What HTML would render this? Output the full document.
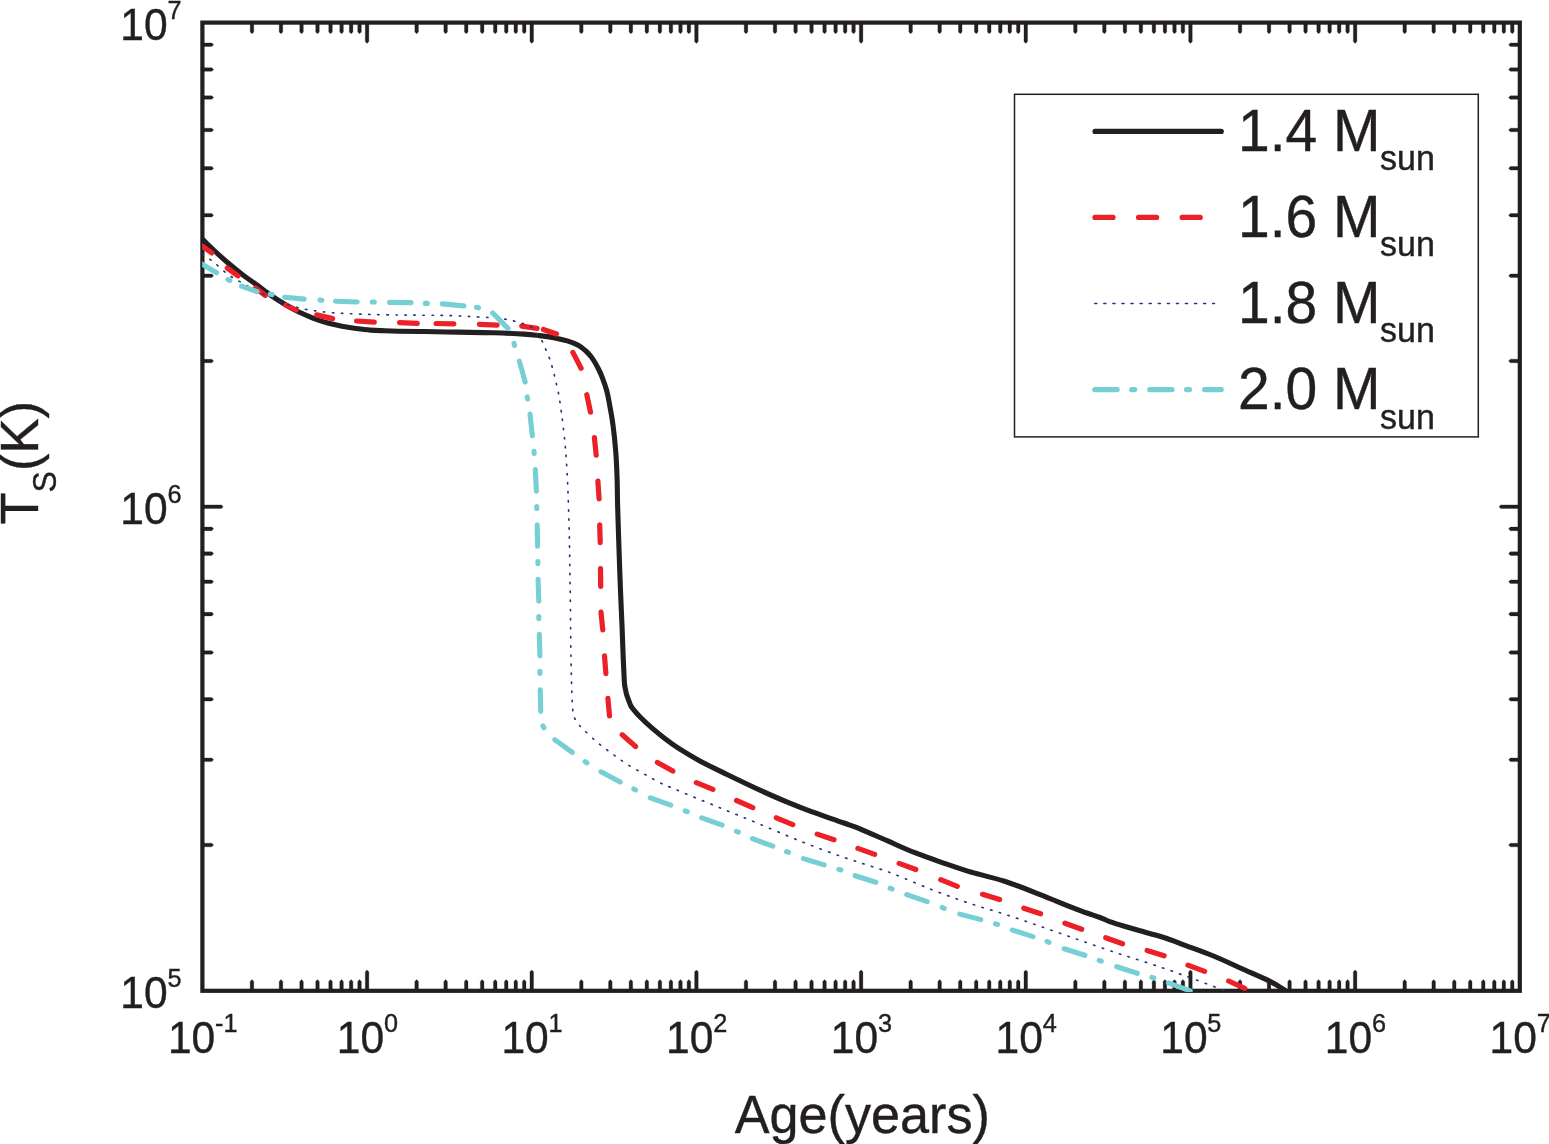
<!DOCTYPE html>
<html lang="en"><head><meta charset="utf-8"><title>Ts vs Age</title>
<style>html,body{margin:0;padding:0;background:#fff}svg{display:block}text{font-family:"Liberation Sans",sans-serif;fill:#231f20;stroke:#231f20;stroke-width:0.4px}</style></head><body>
<svg width="1549" height="1144" viewBox="0 0 1549 1144">
<rect width="1549" height="1144" fill="#fff"/>
<defs><clipPath id="c"><rect x="202.1" y="20.5" width="1319.8" height="971.5"/></clipPath></defs>
<rect x="202.4" y="22.6" width="1317.4" height="968.2" fill="none" stroke="#231f20" stroke-width="4.2" stroke-linejoin="miter"/>
<path d="M250.19 22.6V32.0L251.97 33.8L253.75 32.0V22.6ZM250.19 990.8V981.4L251.97 979.6L253.75 981.4V990.8ZM279.19 22.6V32.0L280.97 33.8L282.75 32.0V22.6ZM279.19 990.8V981.4L280.97 979.6L282.75 981.4V990.8ZM299.76 22.6V32.0L301.54 33.8L303.32 32.0V22.6ZM299.76 990.8V981.4L301.54 979.6L303.32 981.4V990.8ZM315.72 22.6V32.0L317.50 33.8L319.28 32.0V22.6ZM315.72 990.8V981.4L317.50 979.6L319.28 981.4V990.8ZM328.76 22.6V32.0L330.54 33.8L332.32 32.0V22.6ZM328.76 990.8V981.4L330.54 979.6L332.32 981.4V990.8ZM339.79 22.6V32.0L341.57 33.8L343.35 32.0V22.6ZM339.79 990.8V981.4L341.57 979.6L343.35 981.4V990.8ZM349.34 22.6V32.0L351.12 33.8L352.90 32.0V22.6ZM349.34 990.8V981.4L351.12 979.6L352.90 981.4V990.8ZM357.76 22.6V32.0L359.54 33.8L361.32 32.0V22.6ZM357.76 990.8V981.4L359.54 979.6L361.32 981.4V990.8ZM365.30 22.6V41.6L367.07 43.4L368.85 41.6V22.6ZM365.30 990.8V971.8L367.07 970.0L368.85 971.8V990.8ZM414.87 22.6V32.0L416.65 33.8L418.43 32.0V22.6ZM414.87 990.8V981.4L416.65 979.6L418.43 981.4V990.8ZM443.86 22.6V32.0L445.64 33.8L447.42 32.0V22.6ZM443.86 990.8V981.4L445.64 979.6L447.42 981.4V990.8ZM464.44 22.6V32.0L466.22 33.8L468.00 32.0V22.6ZM464.44 990.8V981.4L466.22 979.6L468.00 981.4V990.8ZM480.40 22.6V32.0L482.18 33.8L483.96 32.0V22.6ZM480.40 990.8V981.4L482.18 979.6L483.96 981.4V990.8ZM493.44 22.6V32.0L495.22 33.8L497.00 32.0V22.6ZM493.44 990.8V981.4L495.22 979.6L497.00 981.4V990.8ZM504.46 22.6V32.0L506.24 33.8L508.02 32.0V22.6ZM504.46 990.8V981.4L506.24 979.6L508.02 981.4V990.8ZM514.01 22.6V32.0L515.79 33.8L517.57 32.0V22.6ZM514.01 990.8V981.4L515.79 979.6L517.57 981.4V990.8ZM522.43 22.6V32.0L524.21 33.8L525.99 32.0V22.6ZM522.43 990.8V981.4L524.21 979.6L525.99 981.4V990.8ZM529.97 22.6V41.6L531.75 43.4L533.53 41.6V22.6ZM529.97 990.8V971.8L531.75 970.0L533.53 971.8V990.8ZM579.54 22.6V32.0L581.32 33.8L583.10 32.0V22.6ZM579.54 990.8V981.4L581.32 979.6L583.10 981.4V990.8ZM608.54 22.6V32.0L610.32 33.8L612.10 32.0V22.6ZM608.54 990.8V981.4L610.32 979.6L612.10 981.4V990.8ZM629.11 22.6V32.0L630.89 33.8L632.67 32.0V22.6ZM629.11 990.8V981.4L630.89 979.6L632.67 981.4V990.8ZM645.07 22.6V32.0L646.85 33.8L648.63 32.0V22.6ZM645.07 990.8V981.4L646.85 979.6L648.63 981.4V990.8ZM658.11 22.6V32.0L659.89 33.8L661.67 32.0V22.6ZM658.11 990.8V981.4L659.89 979.6L661.67 981.4V990.8ZM669.14 22.6V32.0L670.92 33.8L672.70 32.0V22.6ZM669.14 990.8V981.4L670.92 979.6L672.70 981.4V990.8ZM678.69 22.6V32.0L680.47 33.8L682.25 32.0V22.6ZM678.69 990.8V981.4L680.47 979.6L682.25 981.4V990.8ZM687.11 22.6V32.0L688.89 33.8L690.67 32.0V22.6ZM687.11 990.8V981.4L688.89 979.6L690.67 981.4V990.8ZM694.64 22.6V41.6L696.42 43.4L698.20 41.6V22.6ZM694.64 990.8V971.8L696.42 970.0L698.20 971.8V990.8ZM744.22 22.6V32.0L746.00 33.8L747.78 32.0V22.6ZM744.22 990.8V981.4L746.00 979.6L747.78 981.4V990.8ZM773.21 22.6V32.0L774.99 33.8L776.77 32.0V22.6ZM773.21 990.8V981.4L774.99 979.6L776.77 981.4V990.8ZM793.79 22.6V32.0L795.57 33.8L797.35 32.0V22.6ZM793.79 990.8V981.4L795.57 979.6L797.35 981.4V990.8ZM809.75 22.6V32.0L811.53 33.8L813.31 32.0V22.6ZM809.75 990.8V981.4L811.53 979.6L813.31 981.4V990.8ZM822.79 22.6V32.0L824.57 33.8L826.35 32.0V22.6ZM822.79 990.8V981.4L824.57 979.6L826.35 981.4V990.8ZM833.81 22.6V32.0L835.59 33.8L837.37 32.0V22.6ZM833.81 990.8V981.4L835.59 979.6L837.37 981.4V990.8ZM843.36 22.6V32.0L845.14 33.8L846.92 32.0V22.6ZM843.36 990.8V981.4L845.14 979.6L846.92 981.4V990.8ZM851.78 22.6V32.0L853.56 33.8L855.34 32.0V22.6ZM851.78 990.8V981.4L853.56 979.6L855.34 981.4V990.8ZM859.32 22.6V41.6L861.10 43.4L862.88 41.6V22.6ZM859.32 990.8V971.8L861.10 970.0L862.88 971.8V990.8ZM908.89 22.6V32.0L910.67 33.8L912.45 32.0V22.6ZM908.89 990.8V981.4L910.67 979.6L912.45 981.4V990.8ZM937.89 22.6V32.0L939.67 33.8L941.45 32.0V22.6ZM937.89 990.8V981.4L939.67 979.6L941.45 981.4V990.8ZM958.46 22.6V32.0L960.24 33.8L962.02 32.0V22.6ZM958.46 990.8V981.4L960.24 979.6L962.02 981.4V990.8ZM974.42 22.6V32.0L976.20 33.8L977.98 32.0V22.6ZM974.42 990.8V981.4L976.20 979.6L977.98 981.4V990.8ZM987.46 22.6V32.0L989.24 33.8L991.02 32.0V22.6ZM987.46 990.8V981.4L989.24 979.6L991.02 981.4V990.8ZM998.49 22.6V32.0L1000.27 33.8L1002.05 32.0V22.6ZM998.49 990.8V981.4L1000.27 979.6L1002.05 981.4V990.8ZM1008.04 22.6V32.0L1009.82 33.8L1011.60 32.0V22.6ZM1008.04 990.8V981.4L1009.82 979.6L1011.60 981.4V990.8ZM1016.46 22.6V32.0L1018.24 33.8L1020.02 32.0V22.6ZM1016.46 990.8V981.4L1018.24 979.6L1020.02 981.4V990.8ZM1023.99 22.6V41.6L1025.77 43.4L1027.55 41.6V22.6ZM1023.99 990.8V971.8L1025.77 970.0L1027.55 971.8V990.8ZM1073.57 22.6V32.0L1075.35 33.8L1077.13 32.0V22.6ZM1073.57 990.8V981.4L1075.35 979.6L1077.13 981.4V990.8ZM1102.56 22.6V32.0L1104.34 33.8L1106.12 32.0V22.6ZM1102.56 990.8V981.4L1104.34 979.6L1106.12 981.4V990.8ZM1123.14 22.6V32.0L1124.92 33.8L1126.70 32.0V22.6ZM1123.14 990.8V981.4L1124.92 979.6L1126.70 981.4V990.8ZM1139.10 22.6V32.0L1140.88 33.8L1142.66 32.0V22.6ZM1139.10 990.8V981.4L1140.88 979.6L1142.66 981.4V990.8ZM1152.14 22.6V32.0L1153.92 33.8L1155.70 32.0V22.6ZM1152.14 990.8V981.4L1153.92 979.6L1155.70 981.4V990.8ZM1163.16 22.6V32.0L1164.94 33.8L1166.72 32.0V22.6ZM1163.16 990.8V981.4L1164.94 979.6L1166.72 981.4V990.8ZM1172.71 22.6V32.0L1174.49 33.8L1176.27 32.0V22.6ZM1172.71 990.8V981.4L1174.49 979.6L1176.27 981.4V990.8ZM1181.13 22.6V32.0L1182.91 33.8L1184.69 32.0V22.6ZM1181.13 990.8V981.4L1182.91 979.6L1184.69 981.4V990.8ZM1188.67 22.6V41.6L1190.45 43.4L1192.23 41.6V22.6ZM1188.67 990.8V971.8L1190.45 970.0L1192.23 971.8V990.8ZM1238.24 22.6V32.0L1240.02 33.8L1241.80 32.0V22.6ZM1238.24 990.8V981.4L1240.02 979.6L1241.80 981.4V990.8ZM1267.24 22.6V32.0L1269.02 33.8L1270.80 32.0V22.6ZM1267.24 990.8V981.4L1269.02 979.6L1270.80 981.4V990.8ZM1287.81 22.6V32.0L1289.59 33.8L1291.37 32.0V22.6ZM1287.81 990.8V981.4L1289.59 979.6L1291.37 981.4V990.8ZM1303.77 22.6V32.0L1305.55 33.8L1307.33 32.0V22.6ZM1303.77 990.8V981.4L1305.55 979.6L1307.33 981.4V990.8ZM1316.81 22.6V32.0L1318.59 33.8L1320.37 32.0V22.6ZM1316.81 990.8V981.4L1318.59 979.6L1320.37 981.4V990.8ZM1327.84 22.6V32.0L1329.62 33.8L1331.40 32.0V22.6ZM1327.84 990.8V981.4L1329.62 979.6L1331.40 981.4V990.8ZM1337.39 22.6V32.0L1339.17 33.8L1340.95 32.0V22.6ZM1337.39 990.8V981.4L1339.17 979.6L1340.95 981.4V990.8ZM1345.81 22.6V32.0L1347.59 33.8L1349.37 32.0V22.6ZM1345.81 990.8V981.4L1347.59 979.6L1349.37 981.4V990.8ZM1353.35 22.6V41.6L1355.12 43.4L1356.90 41.6V22.6ZM1353.35 990.8V971.8L1355.12 970.0L1356.90 971.8V990.8ZM1402.92 22.6V32.0L1404.70 33.8L1406.48 32.0V22.6ZM1402.92 990.8V981.4L1404.70 979.6L1406.48 981.4V990.8ZM1431.91 22.6V32.0L1433.69 33.8L1435.47 32.0V22.6ZM1431.91 990.8V981.4L1433.69 979.6L1435.47 981.4V990.8ZM1452.49 22.6V32.0L1454.27 33.8L1456.05 32.0V22.6ZM1452.49 990.8V981.4L1454.27 979.6L1456.05 981.4V990.8ZM1468.45 22.6V32.0L1470.23 33.8L1472.01 32.0V22.6ZM1468.45 990.8V981.4L1470.23 979.6L1472.01 981.4V990.8ZM1481.49 22.6V32.0L1483.27 33.8L1485.05 32.0V22.6ZM1481.49 990.8V981.4L1483.27 979.6L1485.05 981.4V990.8ZM1492.51 22.6V32.0L1494.29 33.8L1496.07 32.0V22.6ZM1492.51 990.8V981.4L1494.29 979.6L1496.07 981.4V990.8ZM1502.06 22.6V32.0L1503.84 33.8L1505.62 32.0V22.6ZM1502.06 990.8V981.4L1503.84 979.6L1505.62 981.4V990.8ZM1510.48 22.6V32.0L1512.26 33.8L1514.04 32.0V22.6ZM1510.48 990.8V981.4L1512.26 979.6L1514.04 981.4V990.8ZM202.4 843.29H211.8L213.6 845.07L211.8 846.85H202.4ZM1519.8 843.29H1510.4L1508.6 845.07L1510.4 846.85H1519.8ZM202.4 758.05H211.8L213.6 759.83L211.8 761.61H202.4ZM1519.8 758.05H1510.4L1508.6 759.83L1510.4 761.61H1519.8ZM202.4 697.56H211.8L213.6 699.34L211.8 701.12H202.4ZM1519.8 697.56H1510.4L1508.6 699.34L1510.4 701.12H1519.8ZM202.4 650.65H211.8L213.6 652.43L211.8 654.21H202.4ZM1519.8 650.65H1510.4L1508.6 652.43L1510.4 654.21H1519.8ZM202.4 612.32H211.8L213.6 614.10L211.8 615.88H202.4ZM1519.8 612.32H1510.4L1508.6 614.10L1510.4 615.88H1519.8ZM202.4 579.91H211.8L213.6 581.69L211.8 583.47H202.4ZM1519.8 579.91H1510.4L1508.6 581.69L1510.4 583.47H1519.8ZM202.4 551.83H211.8L213.6 553.61L211.8 555.39H202.4ZM1519.8 551.83H1510.4L1508.6 553.61L1510.4 555.39H1519.8ZM202.4 527.07H211.8L213.6 528.85L211.8 530.63H202.4ZM1519.8 527.07H1510.4L1508.6 528.85L1510.4 530.63H1519.8ZM202.4 504.92H221.4L223.2 506.70L221.4 508.48H202.4ZM1519.8 504.92H1500.8L1499.0 506.70L1500.8 508.48H1519.8ZM202.4 359.19H211.8L213.6 360.97L211.8 362.75H202.4ZM1519.8 359.19H1510.4L1508.6 360.97L1510.4 362.75H1519.8ZM202.4 273.95H211.8L213.6 275.73L211.8 277.51H202.4ZM1519.8 273.95H1510.4L1508.6 275.73L1510.4 277.51H1519.8ZM202.4 213.46H211.8L213.6 215.24L211.8 217.02H202.4ZM1519.8 213.46H1510.4L1508.6 215.24L1510.4 217.02H1519.8ZM202.4 166.55H211.8L213.6 168.33L211.8 170.11H202.4ZM1519.8 166.55H1510.4L1508.6 168.33L1510.4 170.11H1519.8ZM202.4 128.22H211.8L213.6 130.00L211.8 131.78H202.4ZM1519.8 128.22H1510.4L1508.6 130.00L1510.4 131.78H1519.8ZM202.4 95.81H211.8L213.6 97.59L211.8 99.37H202.4ZM1519.8 95.81H1510.4L1508.6 97.59L1510.4 99.37H1519.8ZM202.4 67.73H211.8L213.6 69.51L211.8 71.29H202.4ZM1519.8 67.73H1510.4L1508.6 69.51L1510.4 71.29H1519.8ZM202.4 42.97H211.8L213.6 44.75L211.8 46.53H202.4ZM1519.8 42.97H1510.4L1508.6 44.75L1510.4 46.53H1519.8Z" fill="#231f20" stroke="#231f20" stroke-width="0.3" stroke-linejoin="round"/>
<g clip-path="url(#c)" fill="none" stroke-linecap="round" stroke-linejoin="round">
<path d="M202.6 239.2 C204.5 241.1 209.9 246.5 214.2 250.5 C218.5 254.5 223.7 259.3 228.4 263.3 C233.1 267.3 237.9 271.1 242.6 274.7 C247.3 278.3 252.1 281.5 256.8 284.9 C261.5 288.3 266.3 292.0 271.0 295.3 C275.7 298.6 280.5 301.7 285.2 304.5 C289.9 307.3 294.7 310.0 299.4 312.3 C304.1 314.6 308.9 316.5 313.6 318.3 C318.3 320.1 323.1 321.7 327.8 323.0 C332.5 324.3 337.3 325.3 342.0 326.2 C346.7 327.1 351.4 327.9 356.2 328.5 C360.9 329.1 365.8 329.7 370.5 330.1 C375.2 330.5 380.0 330.6 384.7 330.8 C389.4 331.0 393.0 331.1 398.9 331.2 C404.8 331.3 412.1 331.4 420.0 331.5 C427.9 331.6 434.3 331.8 446.5 332.0 C458.7 332.2 480.1 332.4 493.0 332.8 C505.9 333.2 516.3 333.6 524.0 334.1 C531.7 334.6 534.2 335.0 539.4 335.6 C544.5 336.2 550.2 337.0 554.9 337.9 C559.5 338.8 563.4 339.7 567.3 340.9 C571.2 342.1 575.1 343.6 578.2 345.3 C581.3 347.0 583.7 349.1 585.9 351.0 C588.1 352.9 589.7 355.0 591.3 357.0 C592.9 359.0 594.1 361.0 595.4 363.2 C596.7 365.4 597.8 367.6 599.0 370.0 C600.2 372.4 601.1 374.4 602.4 377.8 C603.7 381.2 605.5 386.2 606.6 390.2 C607.7 394.2 608.0 396.2 609.1 402.0 C610.2 407.8 611.9 416.6 613.0 425.0 C614.1 433.4 615.1 443.4 615.8 452.4 C616.5 461.3 616.8 469.9 617.1 478.7 C617.4 487.4 617.3 494.7 617.6 504.9 C617.9 515.1 618.3 528.2 618.7 539.9 C619.1 551.5 619.5 564.8 619.9 574.8 C620.3 584.8 620.5 591.6 620.9 600.0 C621.2 608.4 621.6 615.0 622.0 625.0 C622.4 635.0 622.9 650.9 623.3 659.9 C623.7 668.9 624.0 674.9 624.2 679.0 C624.4 683.1 624.4 682.8 624.6 684.6 C624.8 686.4 625.2 688.3 625.6 690.0 C626.0 691.7 625.9 692.5 626.7 694.9 C627.5 697.3 629.5 702.6 630.3 704.6 C631.1 706.6 630.8 705.9 631.3 706.6 C631.8 707.3 631.6 707.1 633.0 708.8 C634.4 710.5 636.7 713.5 639.9 716.7 C643.1 719.9 647.7 724.3 652.1 728.1 C656.5 731.9 661.7 736.1 666.1 739.5 C670.5 742.9 672.8 744.7 678.3 748.2 C683.8 751.7 691.4 756.4 699.4 760.7 C707.4 765.0 716.0 769.1 726.5 774.2 C737.0 779.3 752.2 786.6 762.7 791.4 C773.2 796.2 781.7 799.8 789.8 803.2 C797.9 806.6 802.5 808.4 811.5 811.7 C820.5 815.0 835.9 820.1 844.0 823.0 C852.1 825.9 852.8 825.9 860.0 828.9 C867.2 831.9 878.1 836.8 887.1 840.7 C896.1 844.6 904.2 848.5 914.2 852.4 C924.2 856.3 937.8 861.0 946.8 864.2 C955.8 867.4 958.9 868.5 968.5 871.4 C978.1 874.2 992.6 877.4 1004.6 881.3 C1016.6 885.2 1028.8 890.2 1040.8 894.9 C1052.8 899.6 1067.0 905.6 1076.9 909.4 C1086.8 913.2 1094.5 915.5 1100.0 917.5 C1105.5 919.5 1105.2 920.0 1109.7 921.6 C1114.2 923.2 1122.0 925.5 1127.0 927.0 C1132.0 928.5 1133.8 929.0 1140.0 930.8 C1146.2 932.5 1156.4 935.1 1163.9 937.5 C1171.4 939.9 1176.9 942.2 1185.2 945.3 C1193.5 948.4 1204.1 952.1 1213.6 956.0 C1223.1 959.9 1232.8 964.6 1242.0 968.8 C1251.2 972.9 1261.9 977.4 1269.0 980.9 C1276.1 984.4 1282.1 988.5 1284.7 990.0" stroke="#231f20" stroke-width="5.1"/>
<path d="M200.1 244.9 L211.8 252.9 M227.3 268.1 L238.0 275.8 M255.5 288.1 L265.2 295.4 M285.7 305.1 L296.1 310.0 M316.7 314.9 L332.6 318.6 M356.6 321.0 L374.3 322.2 M399.5 322.7 L417.3 323.4 M436.1 323.5 L453.8 323.8 M479.4 324.3 L497.2 325.1 M521.7 326.1 L537.1 328.4 M543.4 329.5 L556.5 334.0 M572.9 352.4 L581.1 368.2 M586.8 394.7 L590.5 412.1 M594.4 437.5 L596.2 455.2 M597.9 481.2 L599.1 498.9 M599.7 524.9 L600.2 542.6 M600.5 568.6 L600.7 586.3 M601.0 612.2 L602.8 629.9 M604.5 655.9 L605.9 673.6 M607.9 698.3 L609.5 716.0 M622.2 734.8 L635.6 746.5 M657.4 762.4 L672.8 771.1 M696.4 782.6 L712.9 789.4 M736.5 800.5 L752.8 807.6 M776.3 817.8 L792.8 824.6 M817.2 834.1 L834.0 839.7 M857.9 848.4 L874.7 854.4 M899.1 863.4 L915.8 869.5 M940.7 879.6 L957.3 886.3 M982.5 894.3 L999.6 899.5 M1023.8 908.2 L1040.6 913.8 M1064.9 923.2 L1081.7 929.3 M1105.7 937.8 L1122.5 943.8 M1147.1 950.5 L1164.1 955.8 M1187.9 965.1 L1204.6 971.4 M1228.6 981.0 L1244.8 988.3" stroke="#ec2027" stroke-width="5.2"/>
<path d="M202.6 254.1 C204.5 255.5 209.9 259.2 214.2 262.6 C218.5 266.0 223.7 271.3 228.4 274.7 C233.1 278.1 237.9 280.5 242.6 283.2 C247.3 285.9 252.1 288.6 256.8 291.0 C261.5 293.4 266.3 295.3 271.0 297.4 C275.7 299.5 280.5 302.0 285.2 303.8 C289.9 305.6 294.7 307.0 299.4 308.1 C304.1 309.2 308.9 309.9 313.6 310.6 C318.3 311.3 323.1 311.9 327.8 312.3 C332.5 312.8 334.9 312.9 342.0 313.3 C349.1 313.7 361.0 314.2 370.5 314.5 C380.0 314.8 390.6 314.9 398.9 315.0 C407.1 315.1 412.1 315.1 420.0 315.2 C427.9 315.3 436.9 315.2 446.5 315.5 C456.1 315.8 468.5 316.4 477.5 316.9 C486.5 317.4 494.0 317.8 500.7 318.6 C507.4 319.5 512.6 320.5 517.8 322.0 C523.0 323.5 528.6 325.5 531.7 327.4 C534.8 329.3 534.6 331.4 536.3 333.6 C538.0 335.8 540.2 338.0 541.8 340.6 C543.3 343.2 544.3 346.1 545.6 349.1 C546.9 352.1 548.3 355.2 549.5 358.4 C550.7 361.6 551.6 364.8 552.6 368.5 C553.6 372.2 554.7 376.5 555.7 380.9 C556.7 385.3 557.9 389.9 558.8 394.8 C559.7 399.7 560.5 406.5 561.1 410.3 C561.7 414.1 561.5 412.5 562.1 417.5 C562.7 422.5 564.0 432.9 564.7 440.2 C565.4 447.5 565.9 453.3 566.4 461.2 C566.9 469.1 567.4 478.7 567.8 487.4 C568.2 496.1 568.4 504.9 568.7 513.6 C569.0 522.4 569.2 529.7 569.4 539.9 C569.6 550.1 569.8 565.6 569.9 574.8 C570.0 584.0 570.2 586.6 570.3 595.0 C570.4 603.4 570.5 614.2 570.6 625.0 C570.7 635.8 570.8 649.4 571.0 659.9 C571.2 670.4 571.4 679.1 571.7 687.9 C572.1 696.6 572.2 706.7 573.1 712.4 C574.0 718.1 575.2 719.2 576.9 722.0 C578.5 724.8 579.6 725.6 583.0 729.0 C586.4 732.4 592.2 738.0 597.0 742.1 C601.8 746.2 606.9 749.9 611.9 753.5 C616.9 757.1 621.5 760.6 626.7 764.0 C632.0 767.4 638.0 770.6 643.4 773.6 C648.8 776.6 653.7 779.6 659.1 782.3 C664.5 785.0 666.2 785.5 675.9 789.6 C685.6 793.7 703.6 801.1 717.5 806.8 C731.4 812.5 744.9 818.0 759.1 823.9 C773.3 829.8 788.4 836.4 802.5 842.0 C816.6 847.6 831.1 852.9 844.0 857.4 C856.9 861.9 871.3 866.2 880.0 869.1 C888.7 872.0 887.5 871.5 896.2 875.0 C904.9 878.5 920.2 885.1 932.3 889.8 C944.3 894.5 956.5 898.9 968.5 903.0 C980.5 907.1 992.6 910.3 1004.6 914.2 C1016.6 918.1 1028.8 922.3 1040.8 926.5 C1052.8 930.7 1064.9 935.0 1076.9 939.2 C1089.0 943.4 1104.5 948.9 1113.1 951.8 C1121.7 954.7 1121.1 954.4 1128.4 956.7 C1135.7 959.1 1147.3 962.7 1156.8 965.9 C1166.3 969.1 1175.7 972.5 1185.2 975.9 C1194.7 979.3 1207.2 984.1 1213.6 986.5 C1220.0 988.9 1221.9 989.4 1223.6 990.0" stroke="#27337d" stroke-width="1.65" stroke-dasharray="1.4 7.67"/>
<path d="M199.7 262.8 L216.6 272.7 M241.5 286.1 L257.1 291.7 M284.7 297.2 L304.2 299.1 M335.5 301.3 L357.2 302.0 M389.5 302.4 L411.1 302.6 M442.3 303.9 L463.9 305.9 M492.7 313.0 L508.0 328.4 M519.3 361.1 L525.2 382.0 M530.0 414.1 L532.3 435.7 M535.3 469.6 L536.4 491.2 M537.2 524.7 L537.6 546.3 M538.1 579.4 L538.8 601.1 M539.3 634.3 L539.9 655.9 M540.2 689.8 L540.7 711.4 M554.8 739.7 L572.3 752.4 M601.0 771.8 L620.2 782.0 M650.3 797.9 L670.8 805.1 M701.7 817.9 L722.1 825.1 M752.5 838.7 L772.8 846.2 M803.4 858.6 L824.1 864.9 M855.1 875.7 L875.8 882.3 M906.7 894.6 L927.2 901.6 M959.8 914.1 L980.8 919.6 M1012.3 930.0 L1033.0 936.6 M1064.1 948.8 L1084.9 955.3 M1116.7 966.7 L1137.3 973.3 M1168.4 982.9 L1190.2 990.8" stroke="#76cfd3" stroke-width="5.1"/>
<path d="M228.0 279.6 L229.8 280.6 M270.2 294.2 L272.2 294.6 M319.9 300.0 L321.9 300.2 M372.3 302.0 L374.3 302.0 M425.3 303.4 L427.3 303.4 M476.5 307.4 L478.5 307.8 M514.0 343.4 L514.6 345.4 M527.2 396.9 L527.6 398.9 M534.0 451.4 L534.2 453.4 M536.7 506.5 L536.7 508.5 M537.9 561.6 L537.9 563.6 M538.8 616.6 L538.8 618.6 M539.9 671.2 L539.9 673.2 M542.9 726.0 L543.9 727.8 M585.1 761.6 L586.9 762.8 M633.8 789.0 L635.6 790.0 M685.2 810.9 L687.2 811.7 M736.4 831.3 L738.4 832.1 M786.5 851.6 L788.5 852.4 M838.9 869.4 L840.9 870.0 M890.1 888.2 L892.1 889.0 M942.2 907.5 L944.2 908.3 M995.5 923.9 L997.5 924.5 M1047.0 941.5 L1049.0 942.3 M1099.2 960.4 L1101.2 961.2 M1151.8 977.4 L1153.8 978.0" stroke="#76cfd3" stroke-width="5.1"/>
</g>
<text transform="translate(120.3 1008.0) scale(1 1.045)" font-size="42.6" text-anchor="start">10<tspan dy="-20.1" dx="-0.2" font-size="25.3">5</tspan></text>
<text transform="translate(120.3 523.9) scale(1 1.045)" font-size="42.6" text-anchor="start">10<tspan dy="-20.1" dx="-0.2" font-size="25.3">6</tspan></text>
<text transform="translate(120.3 39.8) scale(1 1.045)" font-size="42.6" text-anchor="start">10<tspan dy="-20.1" dx="-0.2" font-size="25.3">7</tspan></text>
<text transform="translate(202.7 1053.3) scale(1 1.045)" font-size="42.6" text-anchor="middle">10<tspan dy="-20.1" dx="-0.2" font-size="25.3">-1</tspan></text>
<text transform="translate(367.4 1053.3) scale(1 1.045)" font-size="42.6" text-anchor="middle">10<tspan dy="-20.1" dx="-0.2" font-size="25.3">0</tspan></text>
<text transform="translate(532.0 1053.3) scale(1 1.045)" font-size="42.6" text-anchor="middle">10<tspan dy="-20.1" dx="-0.2" font-size="25.3">1</tspan></text>
<text transform="translate(696.7 1053.3) scale(1 1.045)" font-size="42.6" text-anchor="middle">10<tspan dy="-20.1" dx="-0.2" font-size="25.3">2</tspan></text>
<text transform="translate(861.4 1053.3) scale(1 1.045)" font-size="42.6" text-anchor="middle">10<tspan dy="-20.1" dx="-0.2" font-size="25.3">3</tspan></text>
<text transform="translate(1026.1 1053.3) scale(1 1.045)" font-size="42.6" text-anchor="middle">10<tspan dy="-20.1" dx="-0.2" font-size="25.3">4</tspan></text>
<text transform="translate(1190.8 1053.3) scale(1 1.045)" font-size="42.6" text-anchor="middle">10<tspan dy="-20.1" dx="-0.2" font-size="25.3">5</tspan></text>
<text transform="translate(1355.4 1053.3) scale(1 1.045)" font-size="42.6" text-anchor="middle">10<tspan dy="-20.1" dx="-0.2" font-size="25.3">6</tspan></text>
<text transform="translate(1520.1 1053.3) scale(1 1.045)" font-size="42.6" text-anchor="middle">10<tspan dy="-20.1" dx="-0.2" font-size="25.3">7</tspan></text>
<text transform="translate(862.3 1133.3) scale(1 1.045)" font-size="52.2" text-anchor="middle">Age(years)</text>
<text transform="translate(38.0 524.6) rotate(-90) scale(1 1.020)" font-size="52.6" text-anchor="start">T<tspan dy="17.5" dx="0.0" font-size="32">S</tspan><tspan dy="-17.5" font-size="52.6">(K)</tspan></text>
<rect x="1014.5" y="94.3" width="463.8" height="342.6" fill="#fff" stroke="#231f20" stroke-width="1.5"/>
<path d="M1095 131.4H1221.3" stroke="#231f20" stroke-width="5.1" stroke-linecap="round"/>
<path d="M1094.9 217.4H1221" stroke="#ec2027" stroke-width="5.1" stroke-linecap="round" stroke-dasharray="18.2 25.4"/>
<path d="M1094.8 303.5H1214.5" stroke="#27337d" stroke-width="1.6" stroke-linecap="round" stroke-dasharray="2 7.07"/>
<path d="M1094.8 389.6H1221.2" stroke="#76cfd3" stroke-width="5.3" stroke-linecap="round" stroke-dasharray="22.3 14.6 2.9 15.1"/>
<text transform="translate(1238.0 150.7) scale(1 1.045)" font-size="57" text-anchor="start">1.4 M<tspan dy="18.8" dx="-0.5" font-size="34">sun</tspan></text>
<text transform="translate(1238.0 236.7) scale(1 1.045)" font-size="57" text-anchor="start">1.6 M<tspan dy="18.8" dx="-0.5" font-size="34">sun</tspan></text>
<text transform="translate(1238.0 322.8) scale(1 1.045)" font-size="57" text-anchor="start">1.8 M<tspan dy="18.8" dx="-0.5" font-size="34">sun</tspan></text>
<text transform="translate(1238.0 408.9) scale(1 1.045)" font-size="57" text-anchor="start">2.0 M<tspan dy="18.8" dx="-0.5" font-size="34">sun</tspan></text>
</svg></body></html>
